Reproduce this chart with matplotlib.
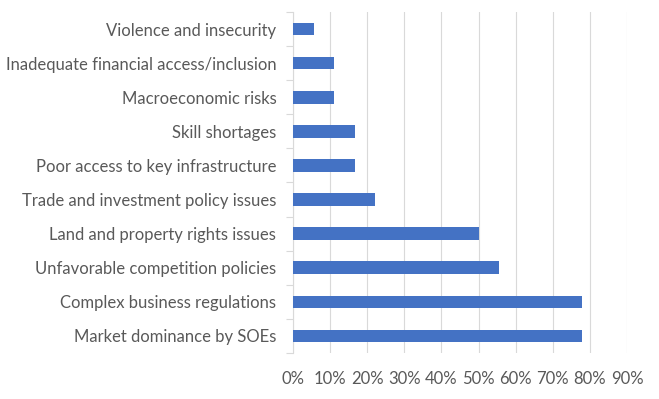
import numpy as np
import matplotlib
matplotlib.use("Agg")
import matplotlib.pyplot as plt
from matplotlib.ticker import FixedLocator, PercentFormatter

categories = [
    "Violence and insecurity",
    "Inadequate financial access/inclusion",
    "Macroeconomic risks",
    "Skill shortages",
    "Poor access to key infrastructure",
    "Trade and investment policy issues",
    "Land and property rights issues",
    "Unfavorable competition policies",
    "Complex business regulations",
    "Market dominance by SOEs",
]
shares = [0.056, 0.111, 0.111, 0.167, 0.167, 0.222, 0.50, 0.556, 0.778, 0.778]
x_ticks = [0.0, 0.1, 0.2, 0.3, 0.4, 0.5, 0.6, 0.7, 0.8, 0.9]

plt.rcParams["font.family"] = ["Lato", "DejaVu Sans"]
text_color = "#595959"
grid_color = "#d9d9d9"

fig = plt.figure(figsize=(6.59, 3.99), dpi=100)
ax = fig.add_axes([293 / 659, 1 - 353 / 399, 334 / 659, 341 / 399])

y = np.arange(len(categories))
ax.barh(y, shares, height=0.37, color="#4472C4", zorder=3)

ax.set_xlim(0, 0.9)
ax.set_ylim(len(categories) - 0.5, -0.5)
ax.set_xticks(x_ticks)
ax.xaxis.set_major_formatter(PercentFormatter(1.0, decimals=0))
ax.set_yticks(y)
ax.set_yticklabels(categories)
ax.yaxis.set_minor_locator(FixedLocator(np.arange(-0.5, len(categories), 1)))

ax.grid(axis="x", color=grid_color, linewidth=0.8, zorder=0)
for side in ["top", "right", "bottom"]:
    ax.spines[side].set_visible(False)
ax.spines["left"].set_color(grid_color)
ax.spines["left"].set_linewidth(0.8)

ax.tick_params(axis="x", length=0, pad=13, labelsize=12, labelcolor=text_color)
ax.tick_params(axis="y", which="major", length=0, pad=12, labelsize=12, labelcolor=text_color)
ax.tick_params(axis="y", which="minor", length=5, width=0.8, color=grid_color)

fig.savefig("out.png", dpi=100, facecolor="white")
